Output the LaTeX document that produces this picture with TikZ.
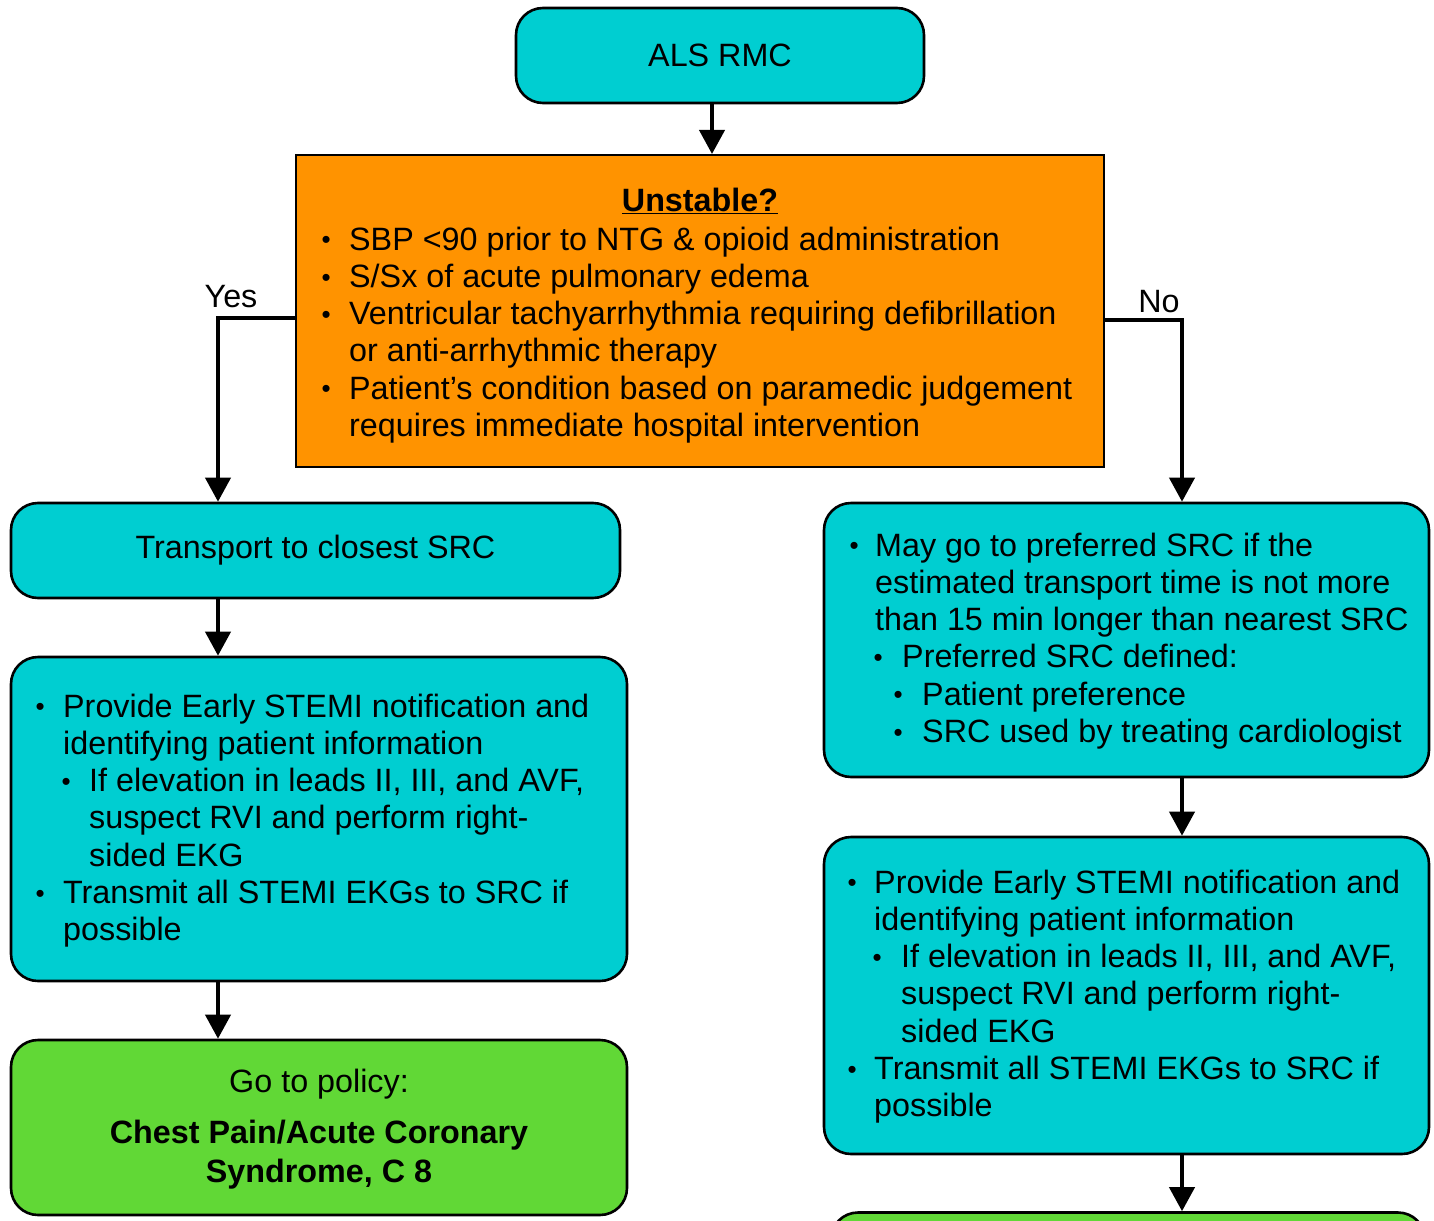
\documentclass[tikz,border=0pt]{standalone}
\usepackage{fontspec}
\setmainfont{Liberation Sans}
\usetikzlibrary{arrows.meta}
\definecolor{turq}{HTML}{00CED1}
\definecolor{orng}{HTML}{FF9300}
\definecolor{grn}{HTML}{61D836}
\newcommand\body{\fontsize{32.3}{37.3}\selectfont}
\newcommand\bulglyph{\raisebox{1.3pt}{\fontsize{26}{26}\selectfont\textbullet}}
\newcommand\bu[1][23]{\leavevmode\llap{\makebox[0pt][c]{\bulglyph}\hspace{#1pt}}\ignorespaces}
\begin{document}
\begin{tikzpicture}[x=1pt,y=-1pt,
  rbox/.style={draw, line width=2.6pt, rounded corners=27pt, inner sep=0pt},
  txt/.style={inner sep=0pt, anchor=base west, font=\body},
  ctxt/.style={inner sep=0pt, anchor=base, font=\body},
  arr/.style={line width=4pt, -{Triangle[width=25pt,length=24pt]}},
 ]
\useasboundingbox (0,0) rectangle (1434,1220);
\clip (0,0) rectangle (1434,1220);

% boxes
\node[rbox, fill=turq, minimum width=408pt, minimum height=95pt, font=\body] (als) at (720,55.5) {ALS RMC};
\node[draw, line width=2pt, fill=orng, minimum width=808pt, minimum height=312pt] (uns) at (700,311) {};
\node[rbox, fill=turq, minimum width=609pt, minimum height=95pt, font=\body] (trans) at (315.5,550.5) {Transport to closest SRC};
\node[rbox, fill=turq, minimum width=616pt, minimum height=324pt] (lnote) at (319,819) {};
\node[rbox, fill=grn, minimum width=616pt, minimum height=175pt] (lgo) at (319,1127.5) {};
\node[rbox, fill=turq, minimum width=605pt, minimum height=274pt] (pref) at (1126.5,640) {};
\node[rbox, fill=turq, minimum width=605pt, minimum height=317pt] (rnote) at (1126.5,995.5) {};
\node[rbox, fill=grn, minimum width=594pt, minimum height=175pt] (rgo) at (1128,1300) {};

% texts
\node[ctxt, font=\body\bfseries] (unsh) at (700,211) {\underline{Unstable?}};
\node[txt] (unsl) at (349,250) {\parbox[t]{760pt}{%
\bu SBP <90 prior to NTG \& opioid administration\\
\bu S/Sx of acute pulmonary edema\\
\bu Ventricular tachyarrhythmia requiring defibrillation\\
or anti-arrhythmic therapy\\
\bu Patient’s condition based on paramedic judgement\\
requires immediate hospital intervention}};

\node[txt] (lnotet) at (63,717) {\parbox[t]{560pt}{%
\bu Provide Early STEMI notification and\\
identifying patient information\\
\hspace*{26pt}\bu If elevation in leads II, III, and AVF,\\
\hspace*{26pt}suspect RVI and perform right-\\
\hspace*{26pt}sided EKG\\
\bu Transmit all STEMI EKGs to SRC if\\
possible}};

\node[ctxt] (lgot) at (319,1092) {Go to policy:};
\node[ctxt, font=\fontsize{32.3}{39}\selectfont\bfseries] (lgob) at (319,1143) {\parbox[t]{600pt}{\centering
Chest Pain/Acute Coronary\\Syndrome, C 8}};

\node[txt] (preft) at (875,556) {\parbox[t]{550pt}{%
\bu[21]May go to preferred SRC if the\\
estimated transport time is not more\\
than 15 min longer than nearest SRC\\
\hspace*{27pt}\bu[24]Preferred SRC defined:\\
\hspace*{47pt}\bu[24]Patient preference\\
\hspace*{47pt}\bu[24]SRC used by treating cardiologist}};

\node[txt] (rnotet) at (874,893) {\parbox[t]{550pt}{%
\bu[22]Provide Early STEMI notification and\\
identifying patient information\\
\hspace*{27pt}\bu[24]If elevation in leads II, III, and AVF,\\
\hspace*{27pt}suspect RVI and perform right-\\
\hspace*{27pt}sided EKG\\
\bu[22]Transmit all STEMI EKGs to SRC if\\
possible}};

\node[ctxt] (yes) at (231,307) {Yes};
\node[ctxt] (no) at (1159,312) {No};

% connectors
\coordinate (cx) at (712,0);
\coordinate (lx) at (218,318);
\coordinate (rx) at (1182,320);
\draw[arr] (als.south -| cx) -- (uns.north -| cx);
\draw[arr] (uns.west |- lx) -| (trans.north -| lx);
\draw[arr] (uns.east |- rx) -| (pref.north -| rx);
\draw[arr] (trans.south -| lx) -- (lnote.north -| lx);
\draw[arr] (lnote.south -| lx) -- (lgo.north -| lx);
\draw[arr] (pref.south -| rx) -- (rnote.north -| rx);
\draw[arr] (rnote.south -| rx) -- (rgo.north -| rx);
\end{tikzpicture}
\end{document}
